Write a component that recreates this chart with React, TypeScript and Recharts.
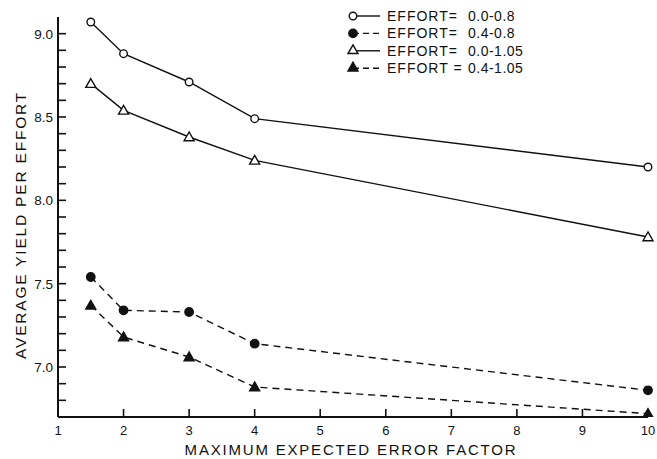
import React from "react";
import { LineChart, Line, XAxis, YAxis } from "recharts";

// values
const errorFactors = [1.5, 2, 3, 4, 10];
const effort00to08 = [9.07, 8.88, 8.71, 8.49, 8.2];
const effort04to08 = [7.54, 7.34, 7.33, 7.14, 6.86];
const effort00to105 = [8.7, 8.54, 8.38, 8.24, 7.78];
const effort04to105 = [7.37, 7.18, 7.06, 6.88, 6.72];

const xTicks = [1, 2, 3, 4, 5, 6, 7, 8, 9, 10];
const yTicks = [6.8, 6.9, 7.0, 7.1, 7.2, 7.3, 7.4, 7.5, 7.6, 7.7, 7.8, 7.9, 8.0, 8.1, 8.2, 8.3, 8.4, 8.5, 8.6, 8.7, 8.8, 8.9, 9.0];
const yLabeled = ["7.0", "7.5", "8.0", "8.5", "9.0"];

const seriesNames = ["EFFORT=", "EFFORT=", "EFFORT=", "EFFORT ="];
const seriesRanges = ["0.0-0.8", "0.4-0.8", "0.0-1.05", "0.4-1.05"];

const data = errorFactors.map((x, i) => ({
  x,
  a: effort00to08[i],
  b: effort04to08[i],
  c: effort00to105[i],
  d: effort04to105[i],
}));

const FONT = "'Liberation Sans', Arial, sans-serif";
const INK = "#111";

type Kind = "circle" | "disc" | "tri" | "solidTri";

function Marker({ cx, cy, kind }: { cx: number; cy: number; kind: Kind }) {
  if (kind === "circle" || kind === "disc") {
    return (
      <circle
        cx={cx}
        cy={cy}
        r={kind === "disc" ? 4.2 : 3.8}
        fill={kind === "disc" ? INK : "#fff"}
        stroke={INK}
        strokeWidth={1.4}
      />
    );
  }
  const s = 5;
  const pts = `${cx},${cy - s} ${cx - s},${cy + s * 0.75} ${cx + s},${cy + s * 0.75}`;
  return (
    <polygon
      points={pts}
      fill={kind === "solidTri" ? INK : "#fff"}
      stroke={INK}
      strokeWidth={1.4}
    />
  );
}

const dotFor = (kind: Kind) => (props: any) => (
  <Marker key={`${kind}-${props.index}`} cx={props.cx} cy={props.cy} kind={kind} />
);

// ticks point into the plot, as on the original figure
function XTick(props: any) {
  const { x, y, payload } = props;
  return (
    <g>
      {payload.value !== 1 && (
        <path d={`M${x},${y}V${y - 8}`} stroke={INK} strokeWidth={1.6} fill="none" />
      )}
      <text x={x} y={y + 18} textAnchor="middle" fontSize={13} fontFamily={FONT} fill={INK}>
        {payload.value}
      </text>
    </g>
  );
}

function YTick(props: any) {
  const { x, y, payload } = props;
  const label = payload.value.toFixed(1);
  return (
    <g>
      <path d={`M${x},${y}H${x + 8}`} stroke={INK} strokeWidth={1.6} fill="none" />
      {yLabeled.includes(label) && (
        <text x={x - 5} y={y + 5} textAnchor="end" fontSize={13.5} fontFamily={FONT} fill={INK}>
          {label}
        </text>
      )}
    </g>
  );
}

const kinds: Kind[] = ["circle", "disc", "tri", "solidTri"];
const dashed = [false, true, false, true];

function LegendBox() {
  return (
    <svg width={230} height={80} style={{ display: "block" }}>
      {kinds.map((k, i) => {
        const cy = 16 + i * 17.4;
        return (
          <g key={k}>
            <line
              x1={8}
              x2={35}
              y1={cy}
              y2={cy}
              stroke={INK}
              strokeWidth={1.4}
              strokeDasharray={dashed[i] ? "6 4" : undefined}
            />
            <Marker cx={8} cy={k === "tri" || k === "solidTri" ? cy - 1 : cy} kind={k} />
            <text x={42} y={cy + 5} fontSize={14} fontFamily={FONT} letterSpacing={1} fill={INK}>
              {seriesNames[i]}
            </text>
            <text x={123} y={cy + 5} fontSize={14} fontFamily={FONT} letterSpacing={0.5} fill={INK}>
              {seriesRanges[i]}
            </text>
          </g>
        );
      })}
    </svg>
  );
}

export default function App() {
  return (
    <div style={{ position: "relative", width: 657, height: 459, background: "#fff" }}>
      <style>{"body{margin:0}"}</style>
      <LineChart
        width={657}
        height={459}
        data={data}
        margin={{ top: 17, right: 9, bottom: 0, left: 0 }}
      >
        <XAxis
          dataKey="x"
          type="number"
          domain={[1, 10]}
          ticks={xTicks}
          tickSize={0}
          tickMargin={0}
          tick={<XTick />}
          height={42}
          stroke={INK}
          strokeWidth={2}
          interval={0}
          label={{
            content: (p: any) => {
              const vb = p.viewBox;
              return (
                <text
                  x={vb.x + vb.width / 2 - 2}
                  y={vb.y + vb.height - 4}
                  textAnchor="middle"
                  fontSize={15}
                  letterSpacing={1.8}
                  fontFamily={FONT}
                  fill={INK}
                >
                  MAXIMUM EXPECTED ERROR FACTOR
                </text>
              );
            },
          }}
        />
        <YAxis
          type="number"
          domain={[6.7, 9.1]}
          ticks={yTicks}
          tickSize={0}
          tickMargin={0}
          tick={<YTick />}
          width={58}
          stroke={INK}
          strokeWidth={2}
          interval={0}
          allowDataOverflow
          label={{
            content: (p: any) => {
              const vb = p.viewBox;
              const cx = vb.x + 20;
              const cy = vb.y + vb.height / 2 + 8;
              return (
                <text
                  x={cx}
                  y={cy}
                  transform={`rotate(-90 ${cx} ${cy})`}
                  textAnchor="middle"
                  dominantBaseline="central"
                  fontSize={15.5}
                  letterSpacing={1.8}
                  fontFamily={FONT}
                  fill={INK}
                >
                  AVERAGE YIELD PER EFFORT
                </text>
              );
            },
          }}
        />
        <Line
          dataKey="a"
          stroke={INK}
          strokeWidth={1.4}
          dot={dotFor("circle")}
          isAnimationActive={false}
        />
        <Line
          dataKey="b"
          stroke={INK}
          strokeWidth={1.4}
          strokeDasharray="7 5"
          dot={dotFor("disc")}
          isAnimationActive={false}
        />
        <Line
          dataKey="c"
          stroke={INK}
          strokeWidth={1.4}
          dot={dotFor("tri")}
          isAnimationActive={false}
        />
        <Line
          dataKey="d"
          stroke={INK}
          strokeWidth={1.4}
          strokeDasharray="7 5"
          dot={dotFor("solidTri")}
          isAnimationActive={false}
        />
      </LineChart>
      <div style={{ position: "absolute", top: 0, left: 345 }}>
        <LegendBox />
      </div>
    </div>
  );
}
